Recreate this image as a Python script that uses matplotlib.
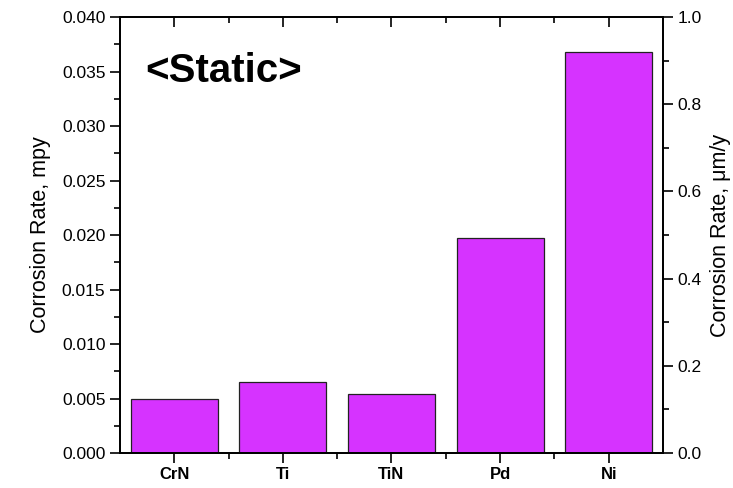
import matplotlib

matplotlib.use("Agg")
import matplotlib.pyplot as plt
from matplotlib.ticker import MultipleLocator, FormatStrFormatter, FixedLocator

plt.rcParams["font.family"] = ["Liberation Sans", "DejaVu Sans"]

# Corrosion rate per coating (mpy)
materials = ["CrN", "Ti", "TiN", "Pd", "Ni"]
rate_mpy = [0.0050, 0.0065, 0.0054, 0.0197, 0.0368]

bar_color = "#D633FF"

fig = plt.figure(figsize=(7.33, 4.88), dpi=100)
ax = fig.add_axes([0.1637, 0.0717, 0.7408, 0.8934])

x_pos = list(range(1, len(materials) + 1))
ax.bar(x_pos, rate_mpy, width=0.8, color=bar_color, edgecolor="#222222", linewidth=0.9)

ax.set_xlim(0.5, len(materials) + 0.5)
ax.set_ylim(0.0, 0.040)
ax.yaxis.set_major_locator(MultipleLocator(0.005))
ax.yaxis.set_minor_locator(MultipleLocator(0.0025))
ax.yaxis.set_major_formatter(FormatStrFormatter("%.3f"))
ax.set_xticks(x_pos)
ax.set_xticklabels(materials, fontweight="bold", fontsize=12)
ax.xaxis.set_minor_locator(FixedLocator([p + 0.5 for p in x_pos[:-1]]))

ax.tick_params(axis="y", which="major", direction="out", length=7, width=1.2, labelsize=12.5)
ax.tick_params(axis="y", which="minor", direction="out", length=4, width=1.2)
ax.tick_params(axis="x", which="major", direction="out", length=7, width=1.2, pad=3,
               top=True)
ax.tick_params(axis="x", which="minor", direction="out", length=4, width=1.2, top=True)
for t in ax.xaxis.get_ticklines(minor=False)[1::2] + ax.xaxis.get_ticklines(minor=True)[1::2]:
    t.set_marker(3)  # top ticks point inward (down)
ax.set_ylabel("Corrosion Rate, mpy", fontsize=15.5, labelpad=8)

for side in ("left", "right", "top", "bottom"):
    ax.spines[side].set_linewidth(1.3)

ax.text(0.046, 0.851, "<Static>", transform=ax.transAxes, fontsize=29,
        fontweight="bold", ha="left", va="baseline")

# Right axis in micrometres per year
ax2 = ax.twinx()
ax2.set_ylim(0.0, 1.0)
ax2.yaxis.set_major_locator(MultipleLocator(0.2))
ax2.yaxis.set_minor_locator(MultipleLocator(0.1))
ax2.yaxis.set_major_formatter(FormatStrFormatter("%.1f"))
ax2.tick_params(axis="y", which="major", direction="out", length=7, width=1.2, labelsize=12.5)
ax2.tick_params(axis="y", which="minor", direction="out", length=4, width=1.2)
ax2.set_ylabel("Corrosion Rate, \u03bcm/y", fontsize=15.5, labelpad=6)
for side in ("left", "right", "top", "bottom"):
    ax2.spines[side].set_linewidth(1.3)

fig.savefig("out.png", dpi=100)
plt.close(fig)
